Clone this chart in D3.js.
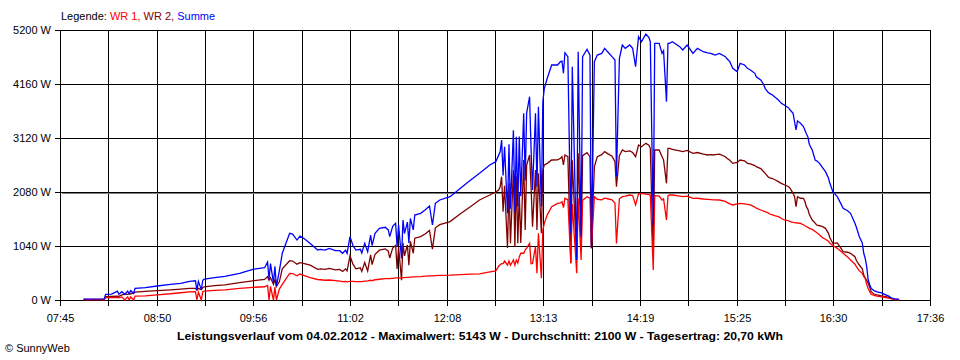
<!DOCTYPE html>
<html><head><meta charset="utf-8">
<script src="https://cdn.jsdelivr.net/npm/d3@7"></script>
<style>
body{margin:0;background:#fff;}
svg{display:block;font-family:"Liberation Sans",Arial,sans-serif;}
</style>
</head><body><svg id="c" width="960" height="360"></svg>
<script>
const times = [
"08:01","08:15","08:16","08:20","08:24","08:25","08:27","08:29","08:31","08:32",
"08:33","08:35","08:36","08:43","08:51","09:00","09:07","09:13","09:17","09:18",
"09:19","09:21","09:22","09:23","09:30","09:37","09:47","09:56","10:04","10:06",
"10:07","10:08","10:10","10:11","10:12","10:14","10:16","10:21","10:23","10:26",
"10:28","10:31","10:35","10:40","10:42","10:45","10:48","10:52","10:55","10:57",
"10:59","11:00","11:02","11:04","11:06","11:09","11:10","11:12","11:14","11:16",
"11:17","11:19","11:22","11:26","11:28","11:29","11:31","11:33","11:34","11:35",
"11:37","11:38","11:39","11:41","11:42","11:43","11:45","11:46","11:50","11:53",
"11:56","11:58","12:00","12:03","12:10","12:17","12:24","12:30","12:37","12:41",
"12:43","12:44","12:45","12:46","12:47","12:49","12:50","12:51","12:53","12:54",
"12:55","12:56","12:57","12:58","13:00","13:01","13:02","13:04","13:05","13:06",
"13:08","13:09","13:10","13:12","13:13","13:14","13:16","13:19","13:23","13:25",
"13:26","13:27","13:28","13:30","13:32","13:33","13:36","13:37","13:39","13:40",
"13:43","13:45","13:46","13:48","13:50","13:53","13:55","13:57","14:00","14:02",
"14:03","14:05","14:07","14:09","14:12","14:14","14:16","14:18","14:20","14:23",
"14:25","14:26","14:28","14:29","14:32","14:34","14:35","14:37","14:38","14:39",
"14:41","14:46","14:48","14:51","14:55","14:58","15:02","15:05","15:07","15:09",
"15:10","15:13","15:17","15:18","15:20","15:22","15:25","15:27","15:30","15:32",
"15:34","15:37","15:38","15:41","15:43","15:44","15:46","15:47","15:49","15:51",
"15:53","15:54","15:55","15:57","16:00","16:01","16:03","16:04","16:05","16:06",
"16:08","16:10","16:11","16:12","16:13","16:14","16:16","16:18","16:19","16:21",
"16:23","16:25","16:27","16:28","16:30","16:33","16:35","16:37","16:40","16:42",
"16:45","16:46","16:48","16:50","16:51","16:52","16:53","16:54","16:55","16:56",
"16:58","17:00","17:03","17:06","17:08","17:10","17:12","17:15"];

const summe = [
15,20,110,115,170,110,160,110,170,120,
180,130,225,240,270,300,320,360,370,190,
360,200,380,400,430,455,514,590,622,730,
400,700,330,650,260,560,900,1284,1270,1155,
1230,1180,1090,963,976,960,995,950,950,900,
960,900,1220,1050,960,976,905,1091,930,1250,
1050,1284,1380,1400,1350,1220,1420,1477,1027,1450,
800,1540,1280,1500,1100,1570,1350,1637,1670,1733,
1810,1444,1862,1926,1990,2150,2311,2440,2600,2664,
2790,2856,3080,2400,2950,1670,3000,1760,3270,1700,
3145,1800,3150,2000,3595,2300,3600,3915,2900,2118,
3595,2182,3723,1800,3820,4077,4270,4526,4526,4590,
4600,4366,4763,4686,1284,4494,770,4782,1220,4686,
4827,4718,995,4590,4718,4750,4846,4780,4686,4622,
2375,4650,4911,4846,4911,4846,4494,5071,4975,5123,
5059,4975,1444,4943,4943,4750,4800,3820,4943,4943,
4975,4879,4815,4911,4750,4846,4782,4760,4750,4730,
4718,4750,4686,4650,4590,4462,4398,4558,4526,4462,
4430,4366,4300,4237,4150,4077,4000,3980,3948,3900,
3852,3820,3790,3756,3700,3659,3595,3434,3274,3450,
3403,3340,3274,3200,3145,3000,2889,2696,2680,2632,
2550,2471,2350,2247,2086,1990,1880,1766,1720,1670,
1477,1400,1220,1100,900,800,642,385,300,225,
180,155,135,100,75,35,20,10];

const wr2 = [
5,10,65,70,75,70,100,110,110,120,
120,130,150,165,180,195,210,222,225,190,
225,200,240,255,275,290,333,370,395,450,
380,430,300,400,260,350,600,757,750,690,
720,700,670,590,600,590,610,580,590,550,
600,560,850,690,600,620,550,720,560,870,
680,880,960,985,940,810,1000,1050,600,1020,
380,1100,850,1060,670,1130,900,1190,1220,1270,
1340,980,1390,1450,1510,1660,1800,1926,2022,2080,
2118,2182,2375,1700,2200,1000,2250,1091,2500,1027,
2380,1091,2054,1100,2696,1348,2600,2793,2182,1412,
2504,1348,2440,1284,2504,2600,2632,2696,2700,2729,
2760,2600,2793,2760,706,2690,770,2825,1091,2780,
2837,2760,1027,2568,2760,2800,2857,2820,2770,2664,
2182,2780,2889,2857,2870,2840,2760,2985,2950,3017,
2980,2921,834,2889,2890,2761,2700,2247,2921,2921,
2900,2870,2857,2880,2825,2840,2810,2793,2800,2793,
2800,2810,2760,2729,2690,2632,2650,2696,2680,2632,
2620,2590,2568,2530,2471,2440,2375,2350,2340,2311,
2280,2260,2247,2220,2182,2150,2054,1990,1797,1990,
1960,1958,1900,1797,1750,1650,1540,1480,1444,1430,
1412,1380,1284,1200,1091,1100,1020,931,920,899,
834,760,674,600,480,420,380,321,250,160,
115,100,80,66,50,32,15,5];

const wr1 = [
10,10,45,45,50,40,60,0,60,0,
60,0,75,80,100,120,140,155,160,0,
150,0,160,170,185,195,225,245,255,280,
0,260,0,250,0,210,300,514,510,465,
500,470,430,395,390,380,385,375,365,355,
360,350,360,360,355,355,355,365,370,380,
375,390,400,410,410,410,418,425,425,425,
420,430,430,435,435,440,445,445,450,460,
465,465,470,475,480,490,500,505,540,560,
650,680,700,700,750,670,750,670,770,670,
770,710,830,900,900,963,1000,1091,700,706,
1027,514,1284,418,1348,1477,1640,1797,1862,1870,
1894,1780,1958,1930,706,1850,514,1958,770,1920,
1990,1960,995,1990,1940,1930,1960,1950,1930,1862,
1091,1950,1990,2000,2022,2010,1830,2040,2054,2040,
2030,2022,578,2010,2000,1926,1950,1540,2010,2022,
2022,2000,1990,2000,1958,1960,1945,1939,1935,1930,
1930,1926,1900,1880,1850,1830,1850,1862,1850,1840,
1830,1790,1770,1733,1710,1700,1680,1656,1640,1620,
1605,1592,1570,1545,1525,1508,1495,1490,1485,1483,
1477,1450,1430,1415,1400,1380,1360,1320,1300,1252,
1200,1170,1130,1091,1050,995,950,899,830,770,
690,642,560,514,450,418,300,220,160,110,
90,75,62,48,35,20,10,3];

const yTicks = [0, 1040, 2080, 3120, 4160, 5200];
const xLabels = ["07:45","08:50","09:56","11:02","12:08","13:13","14:19","15:25","16:30","17:36"];
const startTime = "07:45", endTime = "17:36";
const legendParts = [["Legende: ","#000000"],["WR 1, ","#ff0000"],["WR 2, ","#800000"],["Summe","#0000ff"]];
const title = "Leistungsverlauf vom 04.02.2012 - Maximalwert: 5143 W - Durchschnitt: 2100 W - Tagesertrag: 20,70 kWh";
const credit = "\u00a9 SunnyWeb";

const toMin = s => { const p = s.split(":").map(Number); return p[0]*60 + p[1]; };
const x = d3.scaleLinear().domain([toMin(startTime), toMin(endTime)]).range([60, 930]);
const y = d3.scaleLinear().domain([0, 5200]).range([300, 30]);
const svg = d3.select("#c");
const px = v => Math.round(v) + 0.5;

// vertical grid (18 intervals, every 2nd labelled)
const nGrid = (xLabels.length - 1) * 2;
const d0 = x.domain()[0], d1 = x.domain()[1];
const gridVals = d3.range(nGrid + 1).map(i => d0 + i * (d1 - d0) / nGrid);

const g = svg.append("g").attr("shape-rendering", "crispEdges");
g.selectAll("line.v").data(gridVals).join("line").attr("class","v")
  .attr("x1", d => px(x(d))).attr("x2", d => px(x(d)))
  .attr("y1", px(y(5200))).attr("y2", px(y(0)) + 5)
  .attr("stroke", "#000");
g.selectAll("line.h").data(yTicks).join("line").attr("class","h")
  .attr("x1", px(x(d0)) - 6).attr("x2", px(x(d1)))
  .attr("y1", d => px(y(d))).attr("y2", d => px(y(d)))
  .attr("stroke", "#000");
// gray shadow line under the 2080 W line
g.append("line")
  .attr("x1", px(x(d0)) + 1).attr("x2", px(x(d1)) - 1)
  .attr("y1", px(y(2080)) + 1).attr("y2", px(y(2080)) + 1)
  .attr("stroke", "#808080");

// y labels
svg.append("g").selectAll("text").data(yTicks).join("text")
  .attr("x", 51).attr("y", d => y(d) + 4)
  .attr("text-anchor", "end").attr("font-size", 11).attr("fill", "#000")
  .text(d => d + " W");

// x labels
svg.append("g").selectAll("text").data(xLabels).join("text")
  .attr("x", (d, i) => px(x(gridVals[i * 2])))
  .attr("y", 322).attr("text-anchor", "middle").attr("font-size", 11).attr("fill", "#000")
  .text(d => d);

// lines
const data = times.map((t, i) => ({ t: toMin(t), s: summe[i], a: wr1[i], b: wr2[i] }));
const mk = key => d3.line().x(d => x(d.t)).y(d => y(d[key]));
const series = [["b", "#800000"], ["a", "#ff0000"], ["s", "#0000ff"]];
svg.append("g").selectAll("path").data(series).join("path")
  .attr("d", s => mk(s[0])(data))
  .attr("fill", "none").attr("stroke", s => s[1]).attr("stroke-width", 1.3)
  .attr("stroke-linejoin", "miter");

// legend
const leg = svg.append("text").attr("x", 61).attr("y", 20).attr("font-size", 11)
  .attr("style", "white-space:pre");
leg.selectAll("tspan").data(legendParts).join("tspan")
  .attr("fill", d => d[1]).text(d => d[0]);

// title
svg.append("text").attr("x", 480).attr("y", 340).attr("text-anchor", "middle")
  .attr("font-size", 11).attr("font-weight", "bold").attr("fill", "#000")
  .attr("textLength", 606).attr("lengthAdjust", "spacingAndGlyphs")
  .text(title);

svg.append("text").attr("x", 5).attr("y", 352).attr("font-size", 11).attr("fill", "#000")
  .text(credit);
</script>
</body></html>
